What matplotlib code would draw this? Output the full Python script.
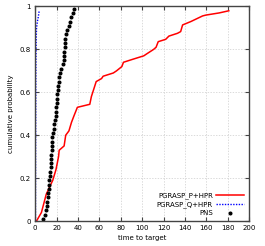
import matplotlib.pyplot as plt

# PGRASP_P+HPR empirical distribution (vertices of the curve)
p_hpr_x = [1.2, 5.8, 10.3, 16.4, 19.4, 21.8, 22.4, 27.0, 28.5, 31.5, 33.9, 36.2, 39.4,
           51.0, 52.5, 57.0, 62.0, 63.5, 73.0, 76.0, 81.0, 82.5, 90.6, 101.5, 104.5,
           110.7, 113.0, 115.0, 122.0, 125.0, 133.0, 136.0, 137.8, 145.6, 156.5,
           159.6, 172.0, 181.0]
p_hpr_y = [0.0, 0.04, 0.125, 0.19, 0.24, 0.30, 0.33, 0.35, 0.40, 0.42, 0.46, 0.49, 0.53,
           0.544, 0.58, 0.65, 0.664, 0.675, 0.69, 0.70, 0.72, 0.74, 0.753, 0.77, 0.78,
           0.80, 0.81, 0.836, 0.847, 0.862, 0.875, 0.883, 0.914, 0.93, 0.956,
           0.96, 0.97, 0.98]

# PGRASP_Q+HPR
q_hpr_x = [0.2, 0.3, 0.5, 0.6, 0.9, 1.2, 2.0, 2.8, 3.7]
q_hpr_y = [0.0, 0.3, 0.6, 0.72, 0.85, 0.90, 0.93, 0.95, 0.98]

# PNS
pns_x = [7.5, 9.5, 10.3, 10.8, 11.2, 11.6, 12.0, 12.4, 12.8, 13.3,
         13.7, 14.1, 14.5, 14.8, 15.0, 15.2, 15.4, 15.5, 15.7, 15.8,
         16.5, 17.2, 17.9, 18.6, 19.0, 19.4, 19.8, 20.2, 20.5, 20.8,
         21.2, 21.6, 22.0, 22.4, 22.8, 23.8, 25.9, 26.5, 27.0, 27.3,
         27.6, 27.8, 28.2, 28.6, 29.8, 31.4, 32.4, 33.6, 35.0, 36.0]
pns_y = [(i - 0.5) / len(pns_x) for i in range(1, len(pns_x) + 1)]

fig = plt.figure(figsize=(2.65, 2.46), dpi=100)
ax = fig.add_axes([0.133, 0.1016, 0.807, 0.872])

ax.plot(p_hpr_x, p_hpr_y, color='red', lw=1.1, label='PGRASP_P+HPR')
ax.plot(q_hpr_x, q_hpr_y, color='blue', lw=1.0, linestyle=(0, (1, 1)), label='PGRASP_Q+HPR')
ax.plot(pns_x, pns_y, 'o', color='black', markersize=1.9, label='PNS')

ax.set_xlim(0, 200)
ax.set_ylim(0, 1)
ax.set_xticks(range(0, 201, 20))
ax.set_yticks([0, 0.2, 0.4, 0.6, 0.8, 1])
ax.set_yticklabels(['0', '0.2', '0.4', '0.6', '0.8', '1'])
ax.grid(True, color='#cccccc', linestyle=(0, (2, 2)), lw=0.5)
ax.tick_params(direction='in', top=True, right=True, labelsize=5, length=3,
               width=0.8, color='#444444', pad=3)
for s in ax.spines.values():
    s.set_color('#444444')
    s.set_linewidth(1.0)

ax.set_xlabel('time to target', fontsize=5, labelpad=3)
ax.set_ylabel('cumulative probability', fontsize=5, labelpad=4)

ax.legend(loc='lower right', fontsize=5, frameon=False, markerfirst=False,
          handlelength=4, labelspacing=0.3, borderaxespad=0.3, handletextpad=0.5)

fig.savefig('out.png', dpi=100)
